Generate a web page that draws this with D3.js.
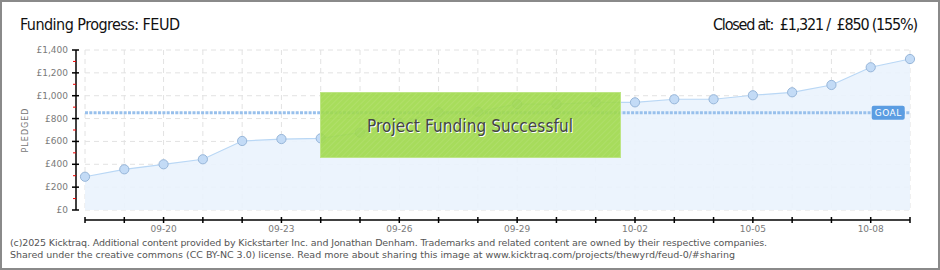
<!DOCTYPE html>
<html><head><meta charset="utf-8">
<script src="https://cdn.jsdelivr.net/npm/d3@7"></script>
<style>
html,body{margin:0;padding:0;background:#fff;}
svg{display:block;}
text{white-space:pre;}
</style></head>
<body>
<svg id="c" width="940" height="270"></svg>
<script>
const dates = ["09-18","09-19","09-20","09-21","09-22","09-23","09-24","09-25","09-26","09-27","09-28","09-29","09-30","10-01","10-02","10-03","10-04","10-05","10-06","10-07","10-08","10-09"];
const pledged = [291,356,400,444,604,621,627,677,760,855,860,927,927,942,942,969,969,1004,1030,1094,1249,1321];
const yTicks = [0,200,400,600,800,1000,1200,1400];
const goal = 850;
const titleText = "Funding Progress: FEUD";
const closedText = "Closed at:  £1,321 /  £850 (155%)";
const footer = ["(c)2025 Kicktraq. Additional content provided by Kickstarter Inc. and Jonathan Denham. Trademarks and related content are owned by their respective companies.",
"Shared under the creative commons (CC BY-NC 3.0) license. Read more about sharing this image at www.kicktraq.com/projects/thewyrd/feud-0/#sharing"];

const svg = d3.select("#c");
const L = 85, R = 910, T = 50, B = 210;
const x = d3.scalePoint().domain(dates).range([L, R]);
const y = d3.scaleLinear().domain([0, 1400]).range([B, T]);

// frame
svg.append("rect").attr("x",1).attr("y",1).attr("width",938).attr("height",268)
  .attr("fill","#fff").attr("stroke","#8a8a8a").attr("stroke-width",2);

// grid
const g = svg.append("g");
g.selectAll(".hg").data(yTicks).join("line")
  .attr("x1",L).attr("x2",R).attr("y1",d=>y(d)).attr("y2",d=>y(d))
  .attr("stroke","#e2e2e2").attr("stroke-dasharray","5,4");
g.selectAll(".vg").data(dates).join("line")
  .attr("x1",d=>x(d)).attr("x2",d=>x(d)).attr("y1",T).attr("y2",B)
  .attr("stroke","#e2e2e2").attr("stroke-dasharray","5,4");

// area + line
const area = d3.area().x((d,i)=>x(dates[i])).y0(B).y1(d=>y(d));
svg.append("path").datum(pledged).attr("d",area).attr("fill","#eaf3fd").attr("fill-opacity",0.9);
const line = d3.line().x((d,i)=>x(dates[i])).y(d=>y(d));
svg.append("path").datum(pledged).attr("d",line).attr("fill","none").attr("stroke","#b9d7f5").attr("stroke-width",1.2);

// goal line
svg.append("line").attr("x1",L).attr("x2",R).attr("y1",y(goal)).attr("y2",y(goal))
  .attr("stroke","#98c0ec").attr("stroke-width",3).attr("stroke-dasharray","3,1.3");

// points
svg.selectAll(".pt").data(pledged).join("circle")
  .attr("cx",(d,i)=>x(dates[i])).attr("cy",d=>y(d)).attr("r",4.6)
  .attr("fill","#c3dbf6").attr("stroke","#97b6d9").attr("stroke-width",1);

// goal label
const gl = svg.append("g").attr("transform",`translate(${x(dates[20])+1},${y(goal)})`);
gl.append("rect").attr("x",0).attr("y",-7).attr("width",33).attr("height",14).attr("rx",2)
  .attr("fill","#5b9de2");
gl.append("text").attr("x",16.5).attr("y",3.5).attr("text-anchor","middle")
  .attr("font-family","DejaVu Sans").attr("font-size",9).attr("fill","#fff").attr("letter-spacing",0.5).text("GOAL");

// y axis
svg.append("line").attr("x1",76).attr("x2",76).attr("y1",T).attr("y2",B).attr("stroke","#000").attr("stroke-width",1.5);
const minor = d3.range(100,1400,200);
svg.selectAll(".mt").data(minor).join("line")
  .attr("x1",73).attr("x2",76).attr("y1",d=>y(d)).attr("y2",d=>y(d)).attr("stroke","#e00").attr("stroke-width",1);
svg.selectAll(".Mt").data(yTicks).join("line")
  .attr("x1",72).attr("x2",79).attr("y1",d=>y(d)).attr("y2",d=>y(d)).attr("stroke","#000").attr("stroke-width",1.5);
svg.selectAll(".yl").data(yTicks).join("text")
  .attr("x",68).attr("y",d=>y(d)+3).attr("text-anchor","end")
  .attr("font-family","DejaVu Sans").attr("font-size",9).attr("fill","#7a7a7a")
  .text(d=>"£"+d3.format(",")(d));
svg.append("text").attr("transform","translate(28,130) rotate(-90)").attr("text-anchor","middle")
  .attr("font-family","DejaVu Sans").attr("font-size",8).attr("fill","#777").attr("letter-spacing",1).text("PLEDGED");

// x axis
const xa = svg.append("g").attr("transform",`translate(0,220)`);
xa.append("line").attr("x1",L).attr("x2",R).attr("stroke","#000").attr("stroke-width",1.5);
xa.selectAll(".xt").data(dates).join("line")
  .attr("x1",d=>x(d)).attr("x2",d=>x(d)).attr("y1",-3).attr("y2",3).attr("stroke","#000").attr("stroke-width",1.5);
xa.selectAll(".xl").data(dates.filter((d,i)=>i%3===2)).join("text")
  .attr("x",d=>x(d)).attr("y",12).attr("text-anchor","middle")
  .attr("font-family","DejaVu Sans").attr("font-size",9).attr("fill","#7a7a7a").text(d=>d);

// success box
const defs = svg.append("defs");
const pat = defs.append("pattern").attr("id","hatch").attr("width",4).attr("height",4)
  .attr("patternUnits","userSpaceOnUse").attr("patternTransform","rotate(45)");
pat.append("rect").attr("width",4).attr("height",4).attr("fill","#9fd94a");
pat.append("line").attr("x1",0).attr("x2",0).attr("y1",0).attr("y2",4).attr("stroke","#a8dc5a").attr("stroke-width",2);
svg.append("rect").attr("x",320.5).attr("y",92.5).attr("width",300).attr("height",65)
  .attr("fill","url(#hatch)").attr("fill-opacity",0.9).attr("stroke","#bde585").attr("stroke-width",1);
svg.append("text").attr("x",471).attr("y",133).attr("text-anchor","middle")
  .attr("font-family","DejaVu Sans Condensed, DejaVu Sans").attr("font-stretch","condensed").attr("font-size",17)
  .attr("fill","#fff").attr("textLength",206).text("Project Funding Successful");
svg.append("text").attr("x",470).attr("y",132).attr("text-anchor","middle")
  .attr("font-family","DejaVu Sans Condensed, DejaVu Sans").attr("font-stretch","condensed").attr("font-size",17)
  .attr("fill","#444").attr("textLength",206).text("Project Funding Successful");

// titles
svg.append("text").attr("x",20).attr("y",30).attr("font-family","DejaVu Sans Condensed, DejaVu Sans")
  .attr("font-stretch","condensed").attr("font-size",16).attr("fill","#111").attr("textLength",160).text(titleText);
svg.append("text").attr("x",918).attr("y",30).attr("text-anchor","end").attr("font-family","DejaVu Sans Condensed, DejaVu Sans")
  .attr("font-stretch","condensed").attr("font-size",16).attr("fill","#111").attr("textLength",205).text(closedText);

// footer
svg.selectAll(".ft").data(footer).join("text")
  .attr("x",10).attr("y",(d,i)=>246+i*12).attr("font-family","DejaVu Sans").attr("font-size",9.5).attr("fill","#555")
  .attr("textLength",(d,i)=>i===0?757:725).text(d=>d);
</script>
</body></html>
